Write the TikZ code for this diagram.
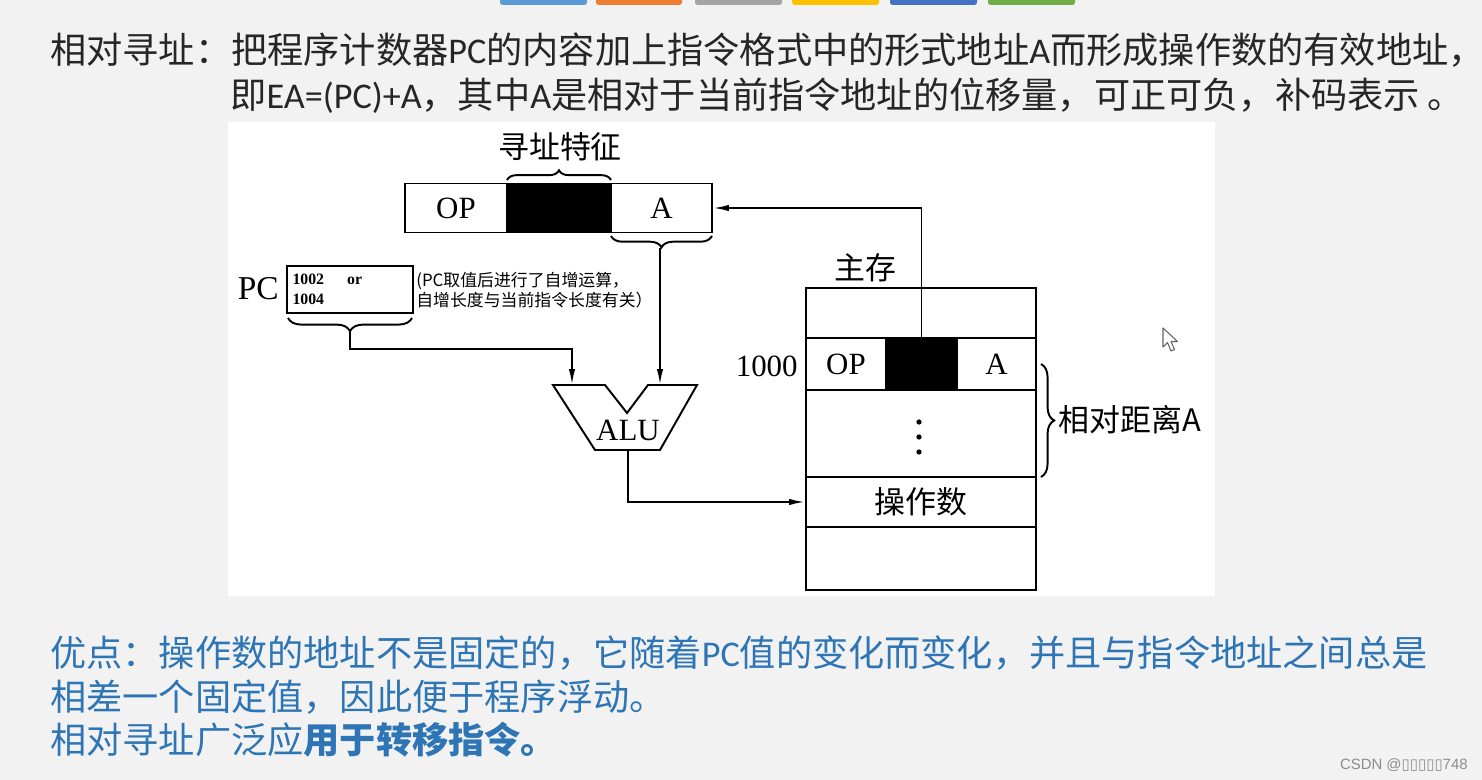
\documentclass[tikz,border=0pt]{standalone}
\usepackage{fontspec}
\setmainfont{Liberation Serif}
\newfontfamily\cjk{Noto Sans CJK SC}
\newfontfamily\lat{Carlito}
\newfontfamily\wmfont{Liberation Sans}
\newfontfamily\boxfont{DejaVu Sans}
\usetikzlibrary{arrows.meta, decorations.pathreplacing, calc}
\definecolor{slidebg}{RGB}{242,242,242}
\definecolor{noteblue}{RGB}{46,117,182}
\definecolor{barA}{RGB}{91,155,213}
\definecolor{barB}{RGB}{237,125,49}
\definecolor{barC}{RGB}{165,165,165}
\definecolor{barD}{RGB}{255,192,0}
\definecolor{barE}{RGB}{68,114,196}
\definecolor{barF}{RGB}{112,173,71}
\tikzset{
  wire/.style={
    line width=1.1pt
  },
  arr/.style={
    wire,
    -{Latex[length=9pt, width=3.6pt]}
  },
  cell/.style={
    draw,
    line width=1.1pt,
    inner sep=0pt,
    font=\fontsize{17.6}{20}\selectfont
  },
  feat cell/.style={
    cell,
    fill=black
  },
  brace/.style={
    wire,
    decorate,
    decoration={brace, amplitude=#1}
  },
  head text/.style={
    anchor=west,
    inner sep=0pt,
    text=black!85,
    font=\cjk\fontsize{20.6}{24}\selectfont
  },
  note text/.style={
    head text,
    text=noteblue
  },
  cn label/.style={
    inner sep=0pt,
    font=\cjk\fontsize{17.6}{20}\selectfont
  },
  serif label/.style={
    inner sep=0pt,
    font=\fontsize{17.6}{20}\selectfont
  }
}

\begin{document}
\begin{tikzpicture}[x=0.02cm, y=-0.02cm]
  \useasboundingbox (0,0) rectangle (1482,780);

  %% ---- 背景与顶部色条 ----
  \fill[slidebg] (0,0) rectangle (1482,780);
  \foreach \xa/\xb/\c in {500/587/barA, 596/682/barB, 695/782/barC,
                          792/879/barD, 890/977/barE, 988/1075/barF} {
    \fill[\c, rounded corners=1.5pt] (\xa,-4) rectangle (\xb,5);
  }
  \fill[white] (228,122) rectangle (1215,596);

  %% ---- 标题文字 ----
  \node[head text] (t1) at (50,50)
    {相对寻址：把程序计数器{\lat PC}的内容加上指令格式中的形式地址{\lat A}而形成操作数的有效地址，};
  \node[head text] (t2) at (230,96)
    {即{\lat EA=(PC)+A}，其中{\lat A}是相对于当前指令地址的位移量，可正可负，补码表示 。};

  %% ---- 指令 ----
  \node[cell, minimum width=2.05cm, minimum height=0.98cm] (op) at (456,208) {OP};
  \node[feat cell, minimum width=2.08cm, minimum height=0.98cm] (feat) at (559,208) {};
  \node[cell, minimum width=2.02cm, minimum height=0.98cm] (a) at (661.5,208) {A};
  \draw[brace=5.5pt] (507,180) -- (611,180);
  \node[cn label] (featlbl) at (560,147) {寻址特征};
  \draw[brace=6.5pt] (712,236) -- (611,236);
  \coordinate (a-tip) at (660,248);

  %% ---- PC ----
  \node[inner sep=0pt, font=\fontsize{19}{22}\selectfont, anchor=east] (pclbl) at (279,289) {PC};
  \node[draw, line width=1.1pt, minimum width=2.52cm, minimum height=0.94cm,
        inner xsep=0.1cm, inner ysep=0pt, text width=2.3cm, align=left,
        font=\bfseries\fontsize{9}{11.4}\selectfont] (pc) at (350,289.5)
    {1002\hspace{0.46cm}or\\1004};
  \node[inner sep=0pt, anchor=west, align=left, font=\cjk\fontsize{9.6}{9.8}\selectfont] (pcnote)
    at (416,290) {(PC取值后进行了自增运算，\\自增长度与当前指令长度有关）};
  \draw[brace=7.5pt] (412,318) -- (288,318);
  \coordinate (pc-tip) at (350,332);

  %% ---- ALU ----
  \coordinate (alu-in1) at (572,385);
  \coordinate (alu-in2) at (660,385);
  \coordinate (alu-out) at (628,450);
  \coordinate (pc-bend) at (572,349);
  \draw[wire, line join=miter] (553,385) -- (605,385) -- (627,413) -- (648,385)
        -- (697,385) -- (660,450) -- (595,450) -- cycle;
  \node[serif label] (alu) at (628,430) {ALU};

  %% ---- 主存 ----
  \node[cn label] (memlbl) at (865,268) {主存};
  \node[cell, minimum width=4.6cm, minimum height=1cm] (mtop) at (921,313) {};
  \node[cell, minimum width=1.6cm, minimum height=1.04cm] (mop) at (846,364) {OP};
  \node[feat cell, minimum width=1.42cm, minimum height=1.04cm] (mfeat) at (921.5,364) {};
  \node[cell, minimum width=1.58cm, minimum height=1.04cm] (ma) at (996.5,364) {A};
  \node[cell, minimum width=4.6cm, minimum height=1.74cm] (mdots) at (921,433.5) {};
  \node[cell, minimum width=4.6cm, minimum height=1cm, font=\cjk\fontsize{17.6}{20}\selectfont] (opd) at (921,502) {操作数};
  \node[cell, minimum width=4.6cm, minimum height=1.26cm] (mbot) at (921,558.5) {};
  \node[serif label, anchor=east] (addr) at (798,366) {1000};
  \foreach \y in {422,437,452} { \fill (919,\y) circle[radius=1.5pt]; }
  \draw[brace=7.5pt] (1041,364) -- (1041,477);
  \node[cn label, anchor=west] (dist) at (1058,420) {相对距离A};

  %% ---- 连线 ----
  \draw[arr] (mfeat.north) |- (a.east);
  \draw[arr] (a-tip) -- (a-tip |- alu-in2);
  \draw[arr] (pc-tip) |- (pc-bend) -- (alu-in1);
  \draw[arr] (alu-out) |- (opd.west);

  %% ---- 鼠标指针 ----
  \draw[black!60, fill=white, line width=0.6pt, line join=round]
    (1163,328) -- (1163,347) -- (1167.5,342.5) -- (1171,351) -- (1174.5,349.5)
    -- (1171,341.5) -- (1177.5,341.5) -- cycle;

  %% ---- 优点 ----
  \node[note text] (n1) at (50,653)
    {优点：操作数的地址不是固定的，它随着{\lat PC}值的变化而变化，并且与指令地址之间总是};
  \node[note text] (n2) at (50,697) {相差一个固定值，因此便于程序浮动。};
  \node[note text] (n3) at (50,740) {相对寻址广泛应\textbf{用于转移指令。}};

  %% ---- 水印 ----
  \node[anchor=east, inner sep=0pt, text=black!45, font=\wmfont\fontsize{8.5}{10}\selectfont] (wm)
    at (1468,765) {CSDN @{\boxfont ▯▯▯▯▯}748};
\end{tikzpicture}
\end{document}
